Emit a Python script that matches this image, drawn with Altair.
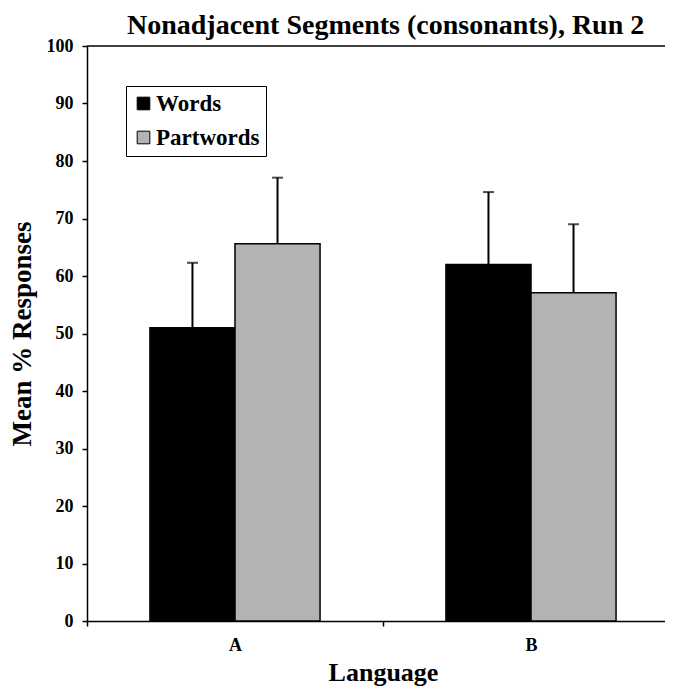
import altair as alt
import pandas as pd

languages = ["A", "A", "B", "B"]
conditions = ["Words", "Partwords", "Words", "Partwords"]
means = [51.0, 65.6, 62.0, 57.1]
upper = [62.3, 77.1, 74.6, 69.0]
y_ticks = [0, 10, 20, 30, 40, 50, 60, 70, 80, 90, 100]

df = pd.DataFrame({"Language": languages, "Condition": conditions,
                   "Mean": means, "Upper": upper})

FONT = "Liberation Serif"
cond_order = ["Words", "Partwords"]

# the category axis runs on past the right edge of the picture, as in the reference
x = alt.X("Language:N", title="Language",
          scale=alt.Scale(paddingInner=0, paddingOuter=0, range=[0, 592]),
          axis=alt.Axis(labelAngle=0, tickBand="extent", tickSize=5,
                        labelPadding=10, titlePadding=5, titleX=296,
                        titleFontSize=26))
xoff = alt.XOffset("Condition:N", sort=cond_order,
                   scale=alt.Scale(paddingInner=0, paddingOuter=0.74))
y = alt.Y("Mean:Q", title="Mean % Responses",
          scale=alt.Scale(domain=[0, 100], nice=False),
          axis=alt.Axis(values=y_ticks, tickSize=5, labelPadding=9,
                        titlePadding=10, titleFontSize=27, grid=False))

bars = alt.Chart(df).mark_bar(stroke="black", strokeWidth=1.5).encode(
    x=x, xOffset=xoff, y=y,
    fill=alt.Fill("Condition:N", sort=cond_order,
                  scale=alt.Scale(domain=cond_order, range=["#000000", "#b3b3b3"]),
                  legend=alt.Legend(title=None, orient="none", legendX=39, legendY=40,
                                    symbolType="square", symbolSize=160,
                                    symbolStrokeColor="black", symbolStrokeWidth=1,
                                    labelFont=FONT, labelFontSize=23, labelFontWeight="bold",
                                    labelColor="black", rowPadding=10, padding=6,
                                    strokeColor="black", fillColor="white",
                                    symbolOffset=0, labelOffset=1)),
)

err = alt.Chart(df).mark_rule(color="black", strokeWidth=2).encode(
    x=x, xOffset=xoff, y="Mean:Q", y2="Upper:Q")
caps = alt.Chart(df).mark_tick(color="black", thickness=2, size=11, orient="horizontal").encode(
    x=x, xOffset=xoff, y="Upper:Q")

top = alt.Chart(pd.DataFrame({"v": [100]})).mark_rule(color="black", strokeWidth=1.5).encode(
    y=alt.Y("v:Q"))

chart = alt.layer(top, err, caps, bars).properties(
    width=578, height=575,
    title=alt.Title("Nonadjacent Segments (consonants), Run 2", anchor="start",
                    frame="group", font=FONT, fontSize=28, fontWeight="bold",
                    color="black", offset=-3, dx=40),
    autosize=alt.AutoSizeParams(type="none"),
    padding={"left": 79, "top": 38, "right": 0, "bottom": 66},
).configure_axis(
    labelFont=FONT, labelFontSize=18, labelFontWeight="bold", labelColor="black",
    titleFont=FONT, titleFontSize=28, titleFontWeight="bold", titleColor="black",
    domainColor="black", domainWidth=1.5, tickColor="black", tickWidth=1.5,
).configure_view(stroke=None)

chart.save("out.html", embed_options={"renderer": "svg", "actions": False})
